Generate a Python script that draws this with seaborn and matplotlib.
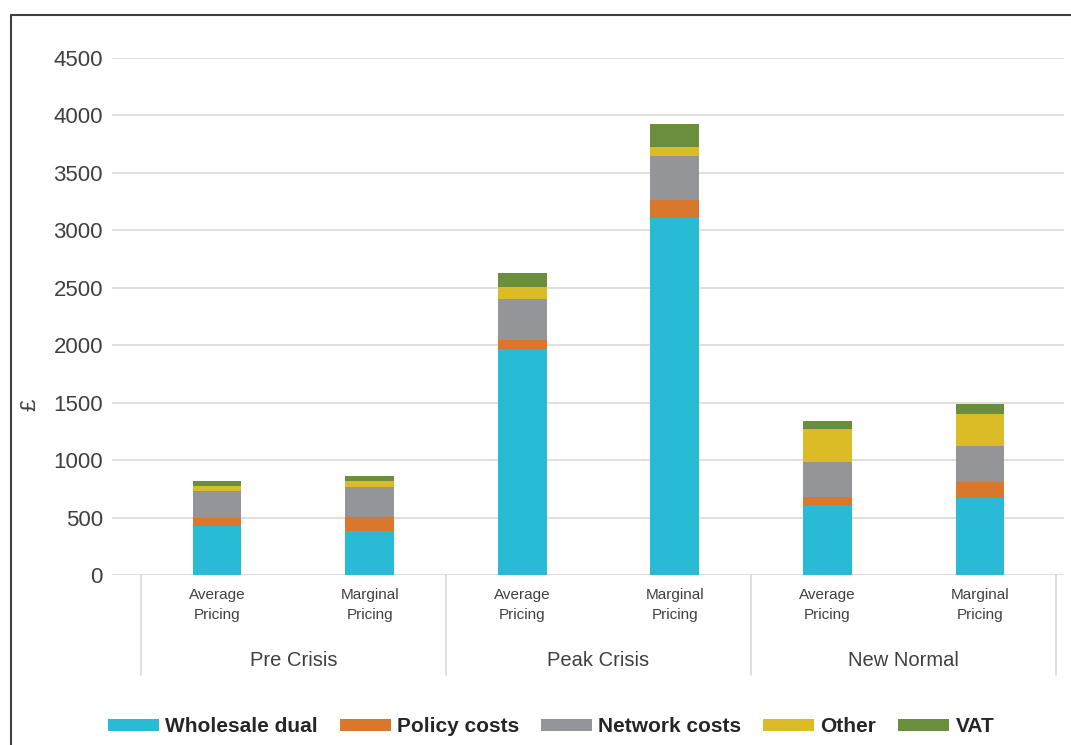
import matplotlib
matplotlib.use("Agg")
import matplotlib.pyplot as plt
import matplotlib.transforms as mtransforms
from matplotlib.lines import Line2D
from matplotlib.patches import Patch
import pandas as pd
import seaborn as sns

# Household energy bill components (£) by scenario and pricing method
groups = ["Pre Crisis", "Peak Crisis", "New Normal"]
pricing = ["Average\nPricing", "Marginal\nPricing"]
wholesale = [430, 385, 1967, 3110, 605, 673]
policy = [66, 118, 78, 154, 75, 140]
network = [235, 265, 357, 383, 305, 310]
other = [44, 52, 105, 78, 287, 278]
vat = [43, 44, 122, 200, 70, 87]

series_names = ["Wholesale dual", "Policy costs", "Network costs", "Other", "VAT"]
series_values = [wholesale, policy, network, other, vat]
colors = ["#29BBD6", "#D9782D", "#939598", "#DBBC26", "#6A8E3C"]
y_ticks = list(range(0, 5000, 500))

sns.set_theme(style="white")
plt.rcParams["font.family"] = ["Liberation Sans", "DejaVu Sans"]

W, H = 1071, 745
fig = plt.figure(figsize=(W / 100, H / 100), dpi=100)
ax_left, ax_right, ax_top, ax_bottom = 112, 1064, 58, 575
ax = fig.add_axes([ax_left / W, 1 - ax_bottom / H,
                   (ax_right - ax_left) / W, (ax_bottom - ax_top) / H])

# One bar per scenario/pricing pair
bar_keys = [f"{g} | {p.replace(chr(10), ' ')}" for g in groups for p in pricing]
df = pd.DataFrame({"bar": bar_keys})
running = [0] * len(bar_keys)
cum_cols = []
for name, vals in zip(series_names, series_values):
    running = [r + v for r, v in zip(running, vals)]
    df[name] = running
    cum_cols.append(name)

# Stack by drawing cumulative totals from the top segment down
for name, color in reversed(list(zip(cum_cols, colors))):
    sns.barplot(data=df, x="bar", y=name, order=bar_keys, color=color,
                saturation=1, width=0.32, errorbar=None, linewidth=0, ax=ax)

bar_px = 152.5
x_lo = 0 - (217 - ax_left) / bar_px
x_hi = 5 + (ax_right - 980) / bar_px
ax.set_xlim(x_lo, x_hi)
ax.set_ylim(0, 4500)
ax.set_yticks(y_ticks)
ax.set_yticklabels([str(t) for t in y_ticks], fontsize=16, color="#404040")
ax.yaxis.grid(True, color="#D9D9D9", linewidth=1.2)
ax.set_axisbelow(True)
for s in ax.spines.values():
    s.set_visible(False)
ax.tick_params(axis="y", length=0, pad=6.5)
ax.tick_params(axis="x", length=0, pad=9)
ax.set_xticks(range(len(bar_keys)))
ax.set_xticklabels(pricing * len(groups), fontsize=11, color="#404040")
for t in ax.get_xticklabels():
    t.set_linespacing(1.6)
ax.set_xlabel("")
ax.set_ylabel("")

blend = mtransforms.blended_transform_factory(ax.transData, ax.transAxes)
axes_h = ax_bottom - ax_top
for i, g in enumerate(groups):
    ax.text(0.5 + 2 * i, -(660 - ax_bottom) / axes_h, g, transform=blend,
            ha="center", va="center", fontsize=14.5, color="#404040")
for xb in [-0.5, 1.5, 3.5, 5.5]:
    ax.plot([xb, xb], [0, -(675 - ax_bottom) / axes_h], transform=blend,
            clip_on=False, color="#D9D9D9", linewidth=1.2)

fig.text(30 / W, 1 - 405 / H, "£", rotation=90, ha="center", va="center",
         fontsize=16, color="#404040")

# Chart frame (top and left edges)
fig.add_artist(Line2D([11 / W, 1], [1 - 15 / H, 1 - 15 / H],
                      transform=fig.transFigure, color="#404040", linewidth=1.5))
fig.add_artist(Line2D([11 / W, 11 / W], [0, 1 - 15 / H],
                      transform=fig.transFigure, color="#404040", linewidth=1.5))

handles = [Patch(facecolor=c, edgecolor="none", label=n)
           for n, c in zip(series_names, colors)]
fig.legend(handles=handles, loc="center", bbox_to_anchor=(551 / W, 1 - 727 / H),
           ncol=5, frameon=False, handlelength=2.45, handleheight=0.55,
           handletextpad=0.3, columnspacing=1.05,
           prop={"weight": "bold", "size": 15})
for t in fig.legends[0].get_texts():
    t.set_color("#262626")

fig.savefig("out.png", dpi=100)
